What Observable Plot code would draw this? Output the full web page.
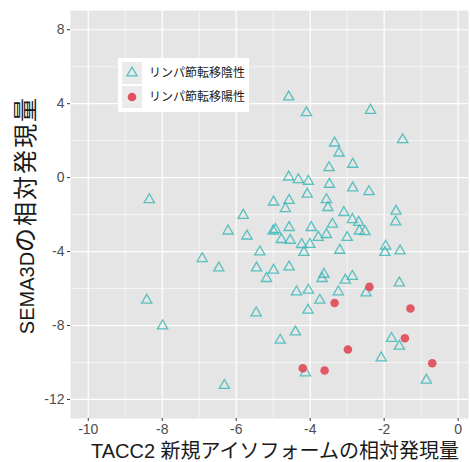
<!DOCTYPE html>
<html><head><meta charset="utf-8">
<script src="https://cdn.jsdelivr.net/npm/d3@7"></script>
<script src="https://cdn.jsdelivr.net/npm/@observablehq/plot@0.6"></script>
<style>
html,body{margin:0;padding:0;background:#fff;}
svg{font-family:"Liberation Sans","Noto Sans CJK JP",sans-serif;}
</style>
</head><body>
<div id="chart"></div>
<script>
// Data: lymph-node metastasis negative (triangles) and positive (dots)
const negX = [-4.58,-4.10,-2.37,-1.50,-3.34,-3.22,-2.85,-3.49,-4.58,-4.32,-4.05,-3.48,-2.85,-2.41,-4.08,-8.35,-4.99,-4.57,-4.67,-3.56,-3.52,-3.09,-1.68,-5.81,-2.86,-2.69,-1.69,-3.40,-4.57,-3.97,-4.94,-5.00,-6.22,-2.67,-2.52,-5.71,-3.56,-3.78,-3.00,-4.78,-4.54,-4.23,-4.01,-1.96,-4.17,-3.20,-1.98,-1.57,-5.36,-6.92,-6.47,-5.45,-4.99,-4.57,-5.18,-3.63,-3.68,-2.86,-3.05,-1.59,-2.49,-3.24,-4.37,-4.05,-3.74,-8.42,-5.46,-4.06,-7.99,-4.40,-4.81,-1.80,-1.59,-2.08,-4.13,-0.86,-6.32];
const negY = [4.36,3.51,3.64,2.05,1.87,1.33,0.72,0.54,0.03,-0.11,-0.20,-0.36,-0.56,-0.76,-0.90,-1.19,-1.32,-1.23,-1.68,-1.19,-1.62,-1.89,-1.82,-2.04,-2.27,-2.42,-2.40,-2.52,-2.70,-2.70,-2.81,-2.89,-2.89,-2.89,-2.92,-3.16,-3.08,-3.23,-3.24,-3.35,-3.39,-3.62,-3.61,-3.71,-4.05,-3.93,-4.05,-3.97,-4.02,-4.38,-4.89,-4.89,-5.01,-4.83,-5.46,-5.23,-5.46,-5.34,-5.55,-5.70,-6.24,-6.18,-6.18,-6.09,-6.63,-6.63,-7.32,-7.17,-8.02,-8.35,-8.79,-8.70,-9.12,-9.75,-10.56,-10.96,-11.24];
const posX = [-2.40,-3.34,-1.29,-1.44,-2.98,-0.70,-4.20,-3.61];
const posY = [-5.91,-6.78,-7.08,-8.69,-9.30,-10.04,-10.31,-10.43];

const xTicks = [-10,-8,-6,-4,-2,0];
const yTicks = [-12,-8,-4,0,4,8];
const xMinor = [-9,-7,-5,-3,-1];
const yMinor = [-10,-6,-2,2,6];

const xTitle = "TACC2 新規アイソフォームの相対発現量";
const yTitleLatin = "SEMA3D";
const yTitleCJK = "の相対発現量";
const legendLabels = ["リンパ節転移陰性","リンパ節転移陽性"];

const neg = negX.map((x,i)=>({x, y:negY[i]}));
const pos = posX.map((x,i)=>({x, y:posY[i]}));

const teal = "#3fb8b8";
const red = "#e0505e";

const plot = Plot.plot({
  width: 470,
  height: 462,
  marginLeft: 70,
  marginRight: 2,
  marginTop: 10,
  marginBottom: 44,
  style: {fontFamily: '"Liberation Sans","Noto Sans CJK JP",sans-serif', background: "#fff"},
  x: {domain: [-10.48, 0.28]},
  y: {domain: [-13.03, 9.04]},
  marks: [
    Plot.frame({fill: "#e5e5e5", stroke: null}),
    Plot.ruleX(xMinor, {stroke: "#fff", strokeWidth: 0.6}),
    Plot.ruleY(yMinor, {stroke: "#fff", strokeWidth: 0.6}),
    Plot.ruleX(xTicks, {stroke: "#fff", strokeWidth: 1.2}),
    Plot.ruleY(yTicks, {stroke: "#fff", strokeWidth: 1.2}),
    Plot.axisX({ticks: xTicks, tickSize: 3, tickPadding: 3, fontSize: 14, color: "#4d4d4d", stroke: "#333", label: null, tickFormat: d => String(d)}),
    Plot.axisY({ticks: yTicks, tickSize: 3, tickPadding: 3, fontSize: 14, color: "#4d4d4d", stroke: "#333", label: null, tickFormat: d => String(d)}),
    Plot.dot(neg, {x: "x", y: "y", symbol: "triangle", r: 3.8, stroke: teal, strokeWidth: 1.3, strokeOpacity: 0.85, fill: "none"}),
    Plot.dot(pos, {x: "x", y: "y", symbol: "circle", r: 4.3, fill: red, fillOpacity: 0.95, stroke: null})
  ]
});

const svg = d3.select(plot);

// Axis titles
svg.append("text").attr("x", 275).attr("y", 458).attr("text-anchor", "middle")
  .attr("font-size", 20).attr("fill", "#1a1a1a").text(xTitle);
const yt = svg.append("text").attr("transform", "translate(34,215) rotate(-90)").attr("text-anchor", "middle")
  .attr("font-size", 20).attr("fill", "#1a1a1a");
yt.append("tspan").text(yTitleLatin);
yt.append("tspan").attr("font-size", 24).attr("letter-spacing", 2).text(yTitleCJK);

// Legend inside the panel
const lg = svg.append("g").attr("transform", "translate(118,58)").attr("text-anchor", "start");
lg.append("rect").attr("width", 131).attr("height", 54).attr("fill", "#fff");
[0,1].forEach(i => {
  lg.append("rect").attr("x", 4).attr("y", 4 + i*24).attr("width", 20).attr("height", 22).attr("fill", "#ebebeb");
  lg.append("text").attr("x", 31).attr("y", 15 + i*24).attr("dy", "0.35em").attr("text-anchor", "start")
    .attr("font-size", 12).attr("fill", "#1a1a1a").text(legendLabels[i]);
});
const tri = d3.symbol(d3.symbolTriangle, Math.PI*3.8*3.8)();
lg.append("path").attr("d", tri).attr("transform", "translate(14,15)")
  .attr("fill", "none").attr("stroke", teal).attr("stroke-width", 1.3).attr("stroke-opacity", 0.85);
lg.append("circle").attr("cx", 14).attr("cy", 39).attr("r", 4.3).attr("fill", red);

document.getElementById("chart").appendChild(plot);
</script>
</body></html>
